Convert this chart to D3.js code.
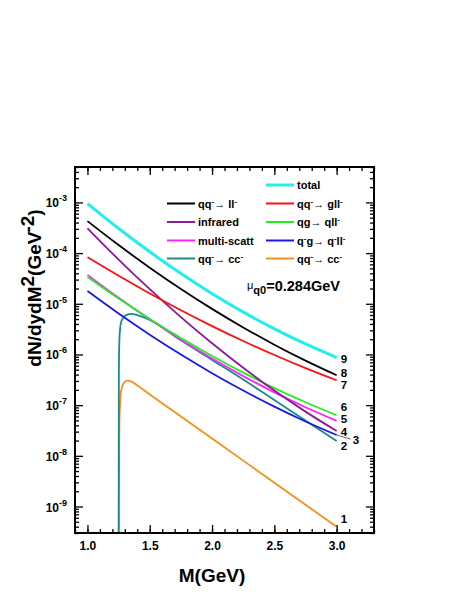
<!DOCTYPE html>
<html>
<head>
<meta charset="utf-8">
<script src="https://cdn.jsdelivr.net/npm/d3@7"></script>
<style>
  body { margin: 0; background: #fff; }
  text { font-family: "Liberation Sans", Arial, sans-serif; font-weight: bold; fill: #000; }
</style>
</head>
<body>
<div id="chart"></div>
<script>
// dilepton mass spectrum
var massGrid = [1.0, 1.25, 1.5, 1.75, 2.0, 2.25, 2.5, 2.75, 3.0];
var total      = [9.5e-4, 3.06e-4, 1.06e-4, 3.94e-5, 1.58e-5, 6.85e-6, 3.2e-6, 1.61e-6, 8.7e-7];
var qqLL       = [4.27e-4, 1.44e-4, 5.16e-5, 1.96e-5, 7.94e-6, 3.41e-6, 1.56e-6, 7.55e-7, 3.89e-7];
var qqGLL      = [8.3e-5, 3.57e-5, 1.6e-5, 7.46e-6, 3.63e-6, 1.84e-6, 9.75e-7, 5.37e-7, 3.09e-7];
var infrared   = [3.09e-4, 7.45e-5, 1.94e-5, 5.46e-6, 1.66e-6, 5.46e-7, 1.94e-7, 7.45e-8, 3.09e-8];
var qgQLL      = [3.39e-5, 1.27e-5, 5.02e-6, 2.1e-6, 9.33e-7, 4.38e-7, 2.17e-7, 1.14e-7, 6.31e-8];
var multiScatt = [3.72e-5, 1.31e-5, 4.93e-6, 1.96e-6, 8.32e-7, 3.74e-7, 1.79e-7, 9.08e-8, 4.9e-8];
var qbarG      = [1.78e-5, 6.42e-6, 2.45e-6, 9.94e-7, 4.27e-7, 1.94e-7, 9.33e-8, 4.76e-8, 2.57e-8];

var charmMass   = [1.25, 1.252, 1.256, 1.262, 1.27, 1.29, 1.32, 1.35, 1.4, 1.5, 1.75, 2.0, 2.25, 2.5, 2.75, 3.0];
var charmTeal   = [1e-11, 4e-7, 1.8e-6, 3.2e-6, 4.3e-6, 5.4e-6, 6.1e-6, 6.3e-6, 6.0e-6, 4.8e-6, 1.9e-6, 7.8e-7, 3.2e-7, 1.26e-7, 5e-8, 1.95e-8];
var charmOrange = [1e-12, 1e-9, 4e-8, 1.1e-7, 1.9e-7, 2.7e-7, 3.05e-7, 2.95e-7, 2.45e-7, 1.62e-7, 5.96e-8, 2.19e-8, 8.04e-9, 2.95e-9, 1.08e-9, 3.98e-10];

var xMajor = [1.0, 1.5, 2.0, 2.5, 3.0];
var yDecades = [-9, -8, -7, -6, -5, -4, -3];

var W = 458, H = 592;
var L = 75, R = 374, T = 167, B = 533;

var svg = d3.select("#chart").append("svg").attr("width", W).attr("height", H);
svg.append("rect").attr("width", W).attr("height", H).attr("fill", "#fff");

var x = d3.scaleLinear().domain([0.9, 3.3]).range([L, R]);
var y = d3.scaleLog().domain([3e-10, 5e-3]).range([B, T]);

// rich text: ^{..} superscript, _{..} subscript
function rich(sel, str, small, size) {
  var re = /([\^_])\{([^}]*)\}|([^\^_]+)/g, m, shift = 0;
  while ((m = re.exec(str)) !== null) {
    if (m[3]) {
      sel.append("tspan").attr("dy", -shift).style("font-size", size + "px").text(m[3]);
      shift = 0;
    } else {
      var d = m[1] === "^" ? -small[1] : small[1];
      sel.append("tspan").attr("dy", d - shift).style("font-size", small[0] + "px").text(m[2]);
      shift = d;
    }
  }
}

svg.append("clipPath").attr("id", "clip").append("rect")
  .attr("x", L).attr("y", T).attr("width", R - L).attr("height", B - T);

var line = d3.line()
  .x(function(d) { return x(d[0]); })
  .y(function(d) { return y(d[1]); })
  .curve(d3.curveMonotoneX);

var series = [
  { name: "total", m: massGrid, v: total, color: "#22eeee", w: 3, num: "9", dx: 4, dy: 1 },
  { name: "qqLL", m: massGrid, v: qqLL, color: "#000000", w: 1.8, num: "8", dx: 4, dy: -2 },
  { name: "qqGLL", m: massGrid, v: qqGLL, color: "#ff1010", w: 1.8, num: "7", dx: 4, dy: 5 },
  { name: "infrared", m: massGrid, v: infrared, color: "#8a1a96", w: 1.8, num: "4", dx: 4, dy: 1 },
  { name: "qgQLL", m: massGrid, v: qgQLL, color: "#22ee22", w: 1.8, num: "6", dx: 4, dy: -8 },
  { name: "multiScatt", m: massGrid, v: multiScatt, color: "#ff22ff", w: 1.8, num: "5", dx: 4, dy: -2 },
  { name: "qbarG", m: massGrid, v: qbarG, color: "#1a1ae6", w: 1.8, num: "3", dx: 16, dy: 5 },
  { name: "teal", m: charmMass, v: charmTeal, color: "#1a8a8a", w: 1.8, num: "2", dx: 4, dy: 5 },
  { name: "orange", m: charmMass, v: charmOrange, color: "#f7901e", w: 1.8, num: "1", dx: 4, dy: -8 }
];

var plot = svg.append("g").attr("clip-path", "url(#clip)");
var drawOrder = ["orange", "teal", "qbarG", "multiScatt", "qgQLL", "infrared", "qqGLL", "qqLL", "total"];
drawOrder.forEach(function(n) {
  var s = series.find(function(d) { return d.name === n; });
  plot.append("path")
    .datum(d3.zip(s.m, s.v))
    .attr("d", line)
    .attr("fill", "none")
    .attr("stroke", s.color)
    .attr("stroke-width", s.w);
});

// curve numbers at the right end
series.forEach(function(s) {
  var last = s.v[s.v.length - 1];
  svg.append("text")
    .attr("x", x(3.0) + s.dx)
    .attr("y", y(last) + s.dy)
    .attr("dominant-baseline", "central")
    .style("font-size", "11.5px")
    .text(s.num);
});
var blueEnd = qbarG[qbarG.length - 1];
svg.append("line")
  .attr("x1", x(3.0)).attr("y1", y(blueEnd))
  .attr("x2", x(3.0) + 14).attr("y2", y(blueEnd) + 4)
  .attr("stroke", "#000").attr("stroke-width", 0.6);

// axes
function styleAxis(g) {
  g.select(".domain").remove();
  g.selectAll(".tick line").attr("stroke", "#000").attr("stroke-width", 1.3);
}
var xMinor = d3.range(9, 34).map(function(i) { return i / 10; });

svg.append("g").attr("transform", "translate(0," + B + ")")
  .call(d3.axisBottom(x).tickValues(xMinor).tickSize(-4).tickFormat(""))
  .call(styleAxis);
svg.append("g").attr("transform", "translate(0," + B + ")")
  .call(d3.axisBottom(x).tickValues(xMajor).tickSize(-8).tickPadding(8).tickFormat(d3.format(".1f")))
  .call(styleAxis)
  .call(function(g) { g.selectAll("text").style("font-size", "12px").attr("font-family", null); });
svg.append("g").attr("transform", "translate(0," + T + ")")
  .call(d3.axisTop(x).tickValues(xMinor).tickSize(-4).tickFormat(""))
  .call(styleAxis);
svg.append("g").attr("transform", "translate(0," + T + ")")
  .call(d3.axisTop(x).tickValues(xMajor).tickSize(-8).tickFormat(""))
  .call(styleAxis);

var yMinor = [];
for (var e = -10; e <= -3; e++) for (var k = 2; k <= 9; k++) {
  var v = k * Math.pow(10, e);
  if (v >= 3e-10 && v <= 5e-3) yMinor.push(v);
}
var yMajor = yDecades.map(function(p) { return Math.pow(10, p); });

[[L, d3.axisLeft], [R, d3.axisRight]].forEach(function(a) {
  svg.append("g").attr("transform", "translate(" + a[0] + ",0)")
    .call(a[1](y).tickValues(yMinor).tickSize(-4).tickFormat(""))
    .call(styleAxis);
  svg.append("g").attr("transform", "translate(" + a[0] + ",0)")
    .call(a[1](y).tickValues(yMajor).tickSize(-8).tickFormat(""))
    .call(styleAxis);
});

yDecades.forEach(function(p) {
  var t = svg.append("text")
    .attr("x", L - 8).attr("y", y(Math.pow(10, p)) + 5)
    .attr("text-anchor", "end")
    .style("font-size", "12px");
  rich(t, "10^{" + p + "}", [9, 6], 12);
});

svg.append("rect").attr("x", L).attr("y", T).attr("width", R - L).attr("height", B - T)
  .attr("fill", "none").attr("stroke", "#000").attr("stroke-width", 2);

// axis titles
svg.append("text").attr("x", (x(1.0) + x(3.0)) / 2).attr("y", 582)
  .attr("text-anchor", "middle").style("font-size", "19px").text("M(GeV)");
var yt = svg.append("text")
  .attr("transform", "translate(41," + 288 + ") rotate(-90)")
  .attr("text-anchor", "middle").style("font-size", "19px");
rich(yt, "dN/dydM^{2}(GeV^{-2})", [19, 7], 19);

// legend
var legend = [
  { col: 1, row: 0, color: "#22eeee", w: 3, label: "total" },
  { col: 0, row: 1, color: "#000000", w: 2, label: "qq^{-}\u2192 ll^{-}" },
  { col: 1, row: 1, color: "#ff1010", w: 2, label: "qq^{-}\u2192 gll^{-}" },
  { col: 0, row: 2, color: "#8a1a96", w: 2, label: "infrared" },
  { col: 1, row: 2, color: "#22ee22", w: 2, label: "qg\u2192 qll^{-}" },
  { col: 0, row: 3, color: "#ff22ff", w: 2, label: "multi-scatt" },
  { col: 1, row: 3, color: "#1a1ae6", w: 2, label: "q^{-}g\u2192 q^{-}ll^{-}" },
  { col: 0, row: 4, color: "#1a8a8a", w: 2, label: "qq^{-}\u2192 cc^{-}" },
  { col: 1, row: 4, color: "#f7901e", w: 2, label: "qq^{-}\u2192 cc^{-}" }
];
var colX = [167, 266], rowY = [185, 203.5, 222, 240.5, 258.5];
legend.forEach(function(d) {
  var lx = colX[d.col], ly = rowY[d.row];
  svg.append("line").attr("x1", lx).attr("x2", lx + 28).attr("y1", ly).attr("y2", ly)
    .attr("stroke", d.color).attr("stroke-width", d.w);
  var t = svg.append("text").attr("x", lx + 31).attr("y", ly + 4).style("font-size", "11px");
  rich(t, d.label, [8, 4], 11);
});

var mu = svg.append("text").attr("x", 247).attr("y", 291).style("font-size", "14.5px");
mu.append("tspan").style("font-size", "11px").style("font-weight", "normal").attr("dy", -2).text("\u03bc");
mu.append("tspan").style("font-size", "11px").attr("dy", 5).text("q0");
mu.append("tspan").style("font-size", "14.5px").attr("dy", -3).text("=0.284GeV");
</script>
</body>
</html>
